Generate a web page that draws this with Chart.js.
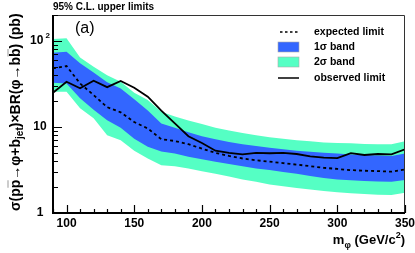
<!DOCTYPE html>
<html>
<head>
<meta charset="utf-8">
<script src="https://cdn.jsdelivr.net/npm/chart.js@4.4.1/dist/chart.umd.min.js"></script>
<style>
  body { margin: 0; background: #fff; }
  #wrap { width: 415px; height: 253px; }
</style>
</head>
<body>
<div id="wrap"><canvas id="myChart" width="415" height="253"></canvas></div>
<script>
// masses (GeV/c^2)
let mass = [90, 100, 110, 120, 130, 140, 150, 160, 170, 180, 190, 200, 210, 220,
  230, 240, 250, 260, 270, 280, 290, 300, 310, 320, 330, 340, 350];

// limits in pb
let observed = [25, 33.5, 28.2, 34.5, 29, 34.3, 28.5, 22.5, 15.5, 11, 7.8, 6.5, 5.3, 5.0,
  4.8, 5.0, 4.95, 5.0, 4.85, 4.55, 4.4, 4.35, 4.95, 4.72, 4.85, 4.8, 5.5];
let expected = [48, 51, 32, 23.5, 17, 14.8, 11.4, 9.6, 7.2, 6.87, 6.3, 5.6, 5.0, 4.6,
  4.3, 4.1, 3.95, 3.8, 3.65, 3.5, 3.35, 3.25, 3.15, 3.1, 3.07, 3.02, 3.2];
let sigma1Up = [73, 75, 55, 43, 33, 28, 21, 15.5, 11, 9.8, 8.7, 7.8, 7.2, 6.7,
  6.3, 6.0, 5.75, 5.5, 5.3, 5.15, 5.0, 4.9, 4.8, 4.72, 4.65, 4.6, 4.9];
let sigma1Down = [32.6, 32, 21.6, 15.8, 12, 9.8, 7.3, 5.9, 5.2, 4.9, 4.5, 4.2, 3.95, 3.7,
  3.5, 3.3, 3.15, 3.0, 2.85, 2.7, 2.55, 2.45, 2.4, 2.35, 2.32, 2.3, 2.42];
let sigma2Up = [105, 107, 64, 50, 40, 33.6, 25, 20.6, 15, 13.2, 11.9, 10.8, 9.8, 9.1,
  8.5, 8.0, 7.6, 7.3, 7.0, 6.8, 6.6, 6.5, 6.45, 6.35, 6.3, 6.3, 6.8];
let sigma2Down = [25.7, 25.7, 16.5, 12.6, 8.0, 7.0, 5.3, 4.3, 3.6, 3.5, 3.3, 3.05, 2.85, 2.65,
  2.45, 2.3, 2.15, 2.05, 1.95, 1.88, 1.8, 1.74, 1.7, 1.66, 1.63, 1.62, 1.72];

// axis ticks
let xTicks = [100, 150, 200, 250, 300, 350];
let yTicks = [1, 10, 100];
let yTickLabels = [["1", ""], ["10", ""], ["10", "2"]];

let legendItems = ["expected limit", "1σ band", "2σ band", "observed limit"];

let blue = "#3366ff";
let green = "#55ffc4";

function pts(arr) {
  return mass.map((m, i) => ({ x: m, y: arr[i] }));
}

const FONT = "'Liberation Sans', Arial, sans-serif";

// ROOT-like frame, ticks, labels, legend
const decor = {
  id: "decor",
  afterDraw(chart) {
    const c = chart.ctx;
    const a = chart.chartArea;
    const xs = chart.scales.x;
    const ys = chart.scales.y;
    c.save();

    // frame
    c.strokeStyle = "#333";
    c.lineWidth = 1;
    c.beginPath();
    c.moveTo(a.left, a.top + 0.5);
    c.lineTo(a.right - 0.5, a.top + 0.5);
    c.lineTo(a.right - 0.5, a.bottom);
    c.stroke();
    c.strokeStyle = "#000";
    c.lineWidth = 2;
    c.beginPath();
    c.moveTo(a.left, a.top);
    c.lineTo(a.left, a.bottom);
    c.lineTo(a.right, a.bottom);
    c.stroke();

    // x ticks
    c.lineWidth = 1.2;
    c.beginPath();
    for (let m = 90; m <= 350; m += 10) {
      const px = Math.round(xs.getPixelForValue(m)) + 0.5;
      const len = m % 50 === 0 ? 8 : 4;
      c.moveTo(px, a.bottom);
      c.lineTo(px, a.bottom - len);
    }
    // y ticks
    for (let d = 1; d <= 100; d *= 10) {
      for (let k = 1; k <= 9; k++) {
        const v = d * k;
        if (v > 200) break;
        const py = Math.round(ys.getPixelForValue(v)) + 0.5;
        const len = k === 1 ? 9 : 5;
        c.moveTo(a.left, py);
        c.lineTo(a.left + len, py);
      }
    }
    c.stroke();

    // tick labels
    c.fillStyle = "#000";
    c.font = "bold 12px " + FONT;
    c.textAlign = "center";
    c.textBaseline = "middle";
    xTicks.forEach((t) => {
      c.fillText(String(t), xs.getPixelForValue(t), a.bottom + 11);
    });
    yTicks.forEach((t, i) => {
      const py = ys.getPixelForValue(t);
      const [base, sup] = yTickLabels[i];
      c.font = "bold 12px " + FONT;
      const w1 = c.measureText(base).width;
      c.font = "bold 8px " + FONT;
      const w2 = sup ? c.measureText(sup).width + 2 : 0;
      const x0 = 40 - (w1 + w2) / 2;
      c.textAlign = "left";
      c.font = "bold 12px " + FONT;
      c.fillText(base, x0, py);
      if (sup) {
        c.font = "bold 8px " + FONT;
        c.fillText(sup, x0 + w1 + 2, py - 5);
      }
    });

    // title and panel label
    c.textAlign = "left";
    c.textBaseline = "alphabetic";
    c.font = "bold 10px " + FONT;
    c.fillText("95% C.L. upper limits", 53, 10);
    c.font = "16px " + FONT;
    c.fillText("(a)", 75, 33);

    // legend
    const lx = 278, tx = 314;
    const rows = [32, 47, 62, 78];
    c.font = "bold 10.5px " + FONT;
    c.textBaseline = "middle";
    legendItems.forEach((t, i) => c.fillText(t, tx, rows[i]));
    c.strokeStyle = "#000";
    c.lineWidth = 1.5;
    c.setLineDash([2.5, 2.5]);
    c.beginPath();
    c.moveTo(lx + 2, rows[0]);
    c.lineTo(lx + 20, rows[0]);
    c.stroke();
    c.setLineDash([]);
    c.beginPath();
    c.moveTo(lx, rows[3]);
    c.lineTo(lx + 21, rows[3]);
    c.stroke();
    c.fillStyle = blue;
    c.fillRect(lx, rows[1] - 5, 21, 10);
    c.fillStyle = green;
    c.fillRect(lx, rows[2] - 5, 21, 10);
    c.strokeStyle = "#aaa";
    c.lineWidth = 0.6;
    c.strokeRect(lx, rows[1] - 5, 21, 10);
    c.strokeRect(lx, rows[2] - 5, 21, 10);

    // x axis title: m_phi (GeV/c^2)
    c.fillStyle = "#000";
    c.textBaseline = "alphabetic";
    const xparts = [["m", 13, 0], ["φ", 9, 4], [" (GeV/c", 13, 0], ["2", 9, -6], [")", 13, 0]];
    let tw = 0;
    xparts.forEach((p) => { c.font = "bold " + p[1] + "px " + FONT; tw += c.measureText(p[0]).width; });
    let cx = 405 - tw;
    xparts.forEach((p) => {
      c.font = "bold " + p[1] + "px " + FONT;
      c.fillText(p[0], cx, 244 + p[2]);
      cx += c.measureText(p[0]).width;
    });

    // y axis title, rotated
    const yparts = [["σ(p", 0], ["p", 1], ["→φ+b", 0], ["jet", 2], [")×BR(φ→b", 0], ["b", 1], [") (pb)", 0]];
    c.translate(20, 211);
    c.rotate(-Math.PI / 2);
    let ux = 0;
    c.lineWidth = 1.2;
    yparts.forEach((p) => {
      const size = p[1] === 2 ? 10 : 14;
      c.font = "bold " + size + "px " + FONT;
      const w = c.measureText(p[0]).width;
      c.fillText(p[0], ux, p[1] === 2 ? 3 : 0);
      if (p[1] === 1) {
        c.beginPath();
        c.moveTo(ux + 0.5, -12);
        c.lineTo(ux + w - 0.5, -12);
        c.stroke();
      }
      ux += w;
    });
    c.restore();
  },
};

const ctx = document.getElementById("myChart").getContext("2d");

new Chart(ctx, {
  type: "line",
  data: {
    datasets: [
      { data: pts(sigma2Up), fill: "+1", backgroundColor: green, borderWidth: 0, pointRadius: 0, order: 5 },
      { data: pts(sigma2Down), fill: false, borderWidth: 0, pointRadius: 0, order: 4 },
      { data: pts(sigma1Up), fill: "+1", backgroundColor: blue, borderWidth: 0, pointRadius: 0, order: 3 },
      { data: pts(sigma1Down), fill: false, borderWidth: 0, pointRadius: 0, order: 2 },
      { data: pts(expected), fill: false, borderColor: "#000", borderWidth: 1.8, borderDash: [3, 3], pointRadius: 0, order: 1 },
      { data: pts(observed), fill: false, borderColor: "#000", borderWidth: 1.8, pointRadius: 0, order: 0 },
    ],
  },
  options: {
    responsive: false,
    animation: false,
    layout: { padding: { left: 53, right: 10, top: 15, bottom: 40 } },
    plugins: { legend: { display: false }, tooltip: { enabled: false } },
    scales: {
      x: { type: "linear", min: 90, max: 350, display: false },
      y: { type: "logarithmic", min: 1, max: 200, display: false },
    },
  },
  plugins: [decor],
});
</script>
</body>
</html>
